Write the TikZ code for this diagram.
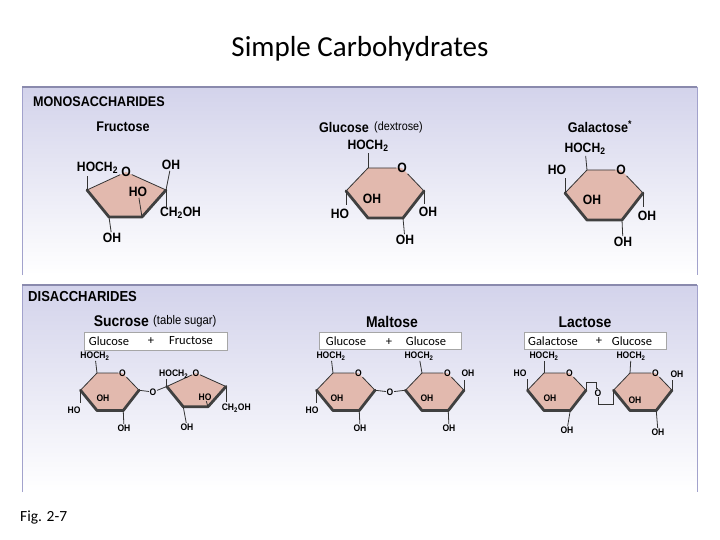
\documentclass[tikz,border=0pt]{standalone}
\usepackage{fontspec}
\setmainfont{Carlito}
\newfontfamily\labf[FakeStretch=0.9]{Liberation Sans}
\usetikzlibrary{calc}
\definecolor{ringc}{HTML}{E2B9AE}
\definecolor{panelc}{HTML}{D3D3EB}
\definecolor{panelb}{HTML}{A2A2CC}
\tikzset{
 edge/.style={draw=black!80,line width=0.8pt,line join=round},
 bottomedge/.style={draw=black!75,line width=2.8pt,line join=round,line cap=round},
 bond/.style={draw=black!80,line width=0.8pt},
 lbl/.style={font=\labf\bfseries\fontsize{13.5}{13.5}\selectfont,inner sep=0.8pt},
 slbl/.style={font=\labf\bfseries\fontsize{9.5}{9.5}\selectfont,inner sep=0.6pt},
 ttl/.style={font=\labf\bfseries\fontsize{14}{14}\selectfont,inner sep=0pt},
 dttl/.style={font=\labf\bfseries\fontsize{15.5}{15.5}\selectfont,inner sep=0pt},
 sub/.style={font=\labf\fontsize{12}{12}\selectfont,inner sep=0pt},
 boxt/.style={font=\fontsize{12.5}{12.5}\selectfont,inner sep=0pt},
 namebox/.style={draw=black!35,fill=white,line width=0.6pt},
}
\newcommand\hexat[5]{% prefix, x, y, scale, label style
 \begin{scope}[shift={(#2,#3)},scale=#4]
 \coordinate (#1tl) at (0,0); \coordinate (#1o) at (34,0); \coordinate (#1r) at (56,23);
 \coordinate (#1br) at (35,50); \coordinate (#1bl) at (0,50); \coordinate (#1l) at (-22,23);
 \end{scope}
 \fill[ringc] (#1tl)--(#1o)--(#1r)--(#1br)--(#1bl)--(#1l)--cycle;
 \node[#5] (#1O) at (#1o) {O};
 \draw[edge] (#1l)--(#1tl)--(#1O);
 \draw[edge] (#1O)--(#1r);
 \draw[bottomedge] (#1r)--(#1br)--(#1bl)--(#1l);
}
\newcommand\pentat[5]{%
 \begin{scope}[shift={(#2,#3)},scale=#4]
 \coordinate (#1o) at (0,0); \coordinate (#1l) at (-39,18); \coordinate (#1bl) at (-17,45);
 \coordinate (#1br) at (16,45); \coordinate (#1r) at (40,18);
 \end{scope}
 \fill[ringc] (#1o)--(#1r)--(#1br)--(#1bl)--(#1l)--cycle;
 \node[#5] (#1O) at (#1o) {O};
 \draw[edge] (#1l)--(#1O)--(#1r);
 \draw[bottomedge] (#1r)--(#1br)--(#1bl)--(#1l);
}
\newcommand\CH{HOCH\textsubscript{2}}
\newcommand\CHOH{CH\textsubscript{2}OH}
\begin{document}
\begin{tikzpicture}[x=1pt,y=-1pt]
\useasboundingbox (0,0) rectangle (720,540);
\fill[white] (0,0) rectangle (720,540);
\node[font=\fontsize{29}{29}\selectfont] (title) at (360,49) {Simple Carbohydrates};
% panels
\shade[top color=panelc,bottom color=white] (22,87) rectangle (697,275);
\draw[panelb,line width=0.8pt] (22,275)--(22,87)--(697,87)--(697,275);
\draw[panelb!85!black,line width=2pt] (22,87)--(697,87);
\shade[top color=panelc,bottom color=white] (22,285) rectangle (697,492);
\draw[panelb,line width=0.8pt] (22,492)--(22,285)--(697,285)--(697,492);
\draw[panelb!85!black,line width=2pt] (22,285)--(697,285);
\node[anchor=west,inner sep=0pt,font=\labf\bfseries\fontsize{14}{14}\selectfont] (mono) at (33,102) {MONOSACCHARIDES};
\node[anchor=west,inner sep=0pt,font=\labf\bfseries\fontsize{14.5}{14.5}\selectfont] (di) at (28,297) {DISACCHARIDES};
\node[font=\fontsize{15.5}{15.5}\selectfont,anchor=west,inner sep=0pt] (fig) at (20,517) {Fig. 2-7};
% ---------- Fructose
\node[ttl] (tfru) at (123,127) {Fructose};
\pentat{f}{126}{172}{1}{lbl}
\node[lbl,anchor=east] (f1) at (119,168) {\CH};
\draw[bond] (fl)--++(0,-14);
\node[lbl] (f2) at (171,165) {OH};
\draw[bond] (fr)--(f2);
\node[lbl,anchor=west] (f3) at (159,213) {\CHOH};
\draw[bond] (fr)--++(0,18);
\node[lbl] (f4) at (138,192) {HO};
\draw[bond] (fbr)--(f4);
\node[lbl] (f5) at (112,238) {OH};
\draw[bond] (fbl)--(f5);
% ---------- Glucose
\node[ttl,anchor=east] (tglu) at (369,127) {Glucose};
\node[sub,anchor=west] (tglu2) at (374,127) {(dextrose)};
\hexat{g}{368}{168}{1}{lbl}
\node[lbl] (g1) at (368,146) {\CH};
\draw[bond] (gtl)--(g1);
\node[lbl] (g2) at (372,199) {OH};
\node[lbl] (g3) at (340,214) {HO};
\draw[bond] (gl)--++(0,14);
\node[lbl] (g4) at (428,212) {OH};
\draw[bond] (gr)--++(0,13);
\node[lbl] (g5) at (405,240) {OH};
\draw[bond] (gbr)--(g5);
% ---------- Galactose
\node[ttl] (tgal) at (600,127) {Galactose\textsuperscript{*}};
\hexat{a}{587}{170}{1}{lbl}
\node[lbl] (a1) at (585,149) {\CH};
\draw[bond] (atl)--(a1);
\node[lbl] (a2) at (557,170) {HO};
\draw[bond] (al)--++(0,-15);
\node[lbl] (a3) at (592,200) {OH};
\node[lbl] (a4) at (647,216) {OH};
\draw[bond] (ar)--++(0,14);
\node[lbl] (a5) at (623,242) {OH};
\draw[bond] (abr)--(a5);
% ---------- Sucrose
\node[dttl,anchor=east] (tsuc) at (149,321) {Sucrose};
\node[sub,anchor=west,font=\labf\fontsize{12.5}{12.5}\selectfont] (tsuc2) at (153,321) {(table sugar)};
\draw[namebox] (84,332) rectangle (227,350);
\node[boxt] (sb1) at (109,341) {Glucose};
\node[boxt] (sb2) at (151,341) {+};
\node[boxt] (sb3) at (191,341) {Fructose};
\hexat{s}{97}{373}{0.75}{slbl}
\node[slbl] (s1) at (95,356) {\CH};
\draw[bond] (stl)--(s1);
\node[slbl] (s2) at (103,398) {OH};
\node[slbl] (s3) at (74,410) {HO};
\draw[bond] (sl)--++(0,13);
\node[slbl] (s4) at (124,428) {OH};
\draw[bond] (sbr)--(s4);
\node[slbl] (so) at (153,392) {O};
\pentat{t}{196}{373}{0.75}{slbl}
\draw[bond] (sr)--(so)--(tl);
\node[slbl,anchor=east] (t1) at (189,374) {\CH};
\draw[bond] (tl)--++(0,-8);
\node[slbl] (t2) at (205,397) {HO};
\draw[bond] (tbr)--(t2);
\node[slbl,anchor=west] (t3) at (221,408) {\CHOH};
\draw[bond] (tr)--++(0,15);
\node[slbl] (t4) at (187,427) {OH};
\draw[bond] (tbl)--(t4);
% ---------- Maltose
\node[dttl] (tmal) at (392,322) {Maltose};
\draw[namebox] (319,332) rectangle (461,349);
\node[boxt] (mb1) at (346,341) {Glucose};
\node[boxt] (mb2) at (389,342) {+};
\node[boxt] (mb3) at (426,341) {Glucose};
\hexat{m}{333}{373}{0.75}{slbl}
\node[slbl] (m1) at (331,356) {\CH};
\draw[bond] (mtl)--(m1);
\node[slbl] (m2) at (337,398) {OH};
\node[slbl] (m3) at (312,410) {HO};
\draw[bond] (ml)--++(0,13);
\node[slbl] (m4) at (360,428) {OH};
\draw[bond] (mbr)--(m4);
\node[slbl] (mo) at (390,392) {O};
\hexat{n}{422}{373}{0.75}{slbl}
\draw[bond] (mr)--(mo)--(nl);
\node[slbl] (n1) at (419,356) {\CH};
\draw[bond] (ntl)--(n1);
\node[slbl] (n2) at (468,373) {OH};
\draw[bond] (nr)--++(0,-10);
\node[slbl] (n3) at (427,398) {OH};
\node[slbl] (n4) at (449,428) {OH};
\draw[bond] (nbr)--(n4);
% ---------- Lactose
\node[dttl] (tlac) at (585,322) {Lactose};
\draw[namebox] (524,332) rectangle (666,349);
\node[boxt] (lb1) at (553,341) {Galactose};
\node[boxt] (lb2) at (599,341) {+};
\node[boxt] (lb3) at (632,341) {Glucose};
\hexat{u}{544}{373}{0.75}{slbl}
\node[slbl] (u1) at (544,356) {\CH};
\draw[bond] (utl)--(u1);
\node[slbl] (u2) at (520,373) {HO};
\draw[bond] (ul)--++(0,-11);
\node[slbl] (u3) at (550,398) {OH};
\node[slbl] (u4) at (567,430) {OH};
\draw[bond] (ubr)--(u4);
\node[slbl] (lo) at (598,393) {O};
\hexat{v}{630}{373}{0.75}{slbl}
\draw[bond] (ur)--++(0,-8)--++(10,0)--(lo.north -| 596,380)--(lo.north);
\draw[bond] (lo.south)--(lo.south |- 0,404)--(vl |- 0,404)--(vl);
\node[slbl] (v1) at (631,356) {\CH};
\draw[bond] (vtl)--(v1);
\node[slbl] (v2) at (677,374) {OH};
\draw[bond] (vr)--++(0,-10);
\node[slbl] (v3) at (635,400) {OH};
\node[slbl] (v4) at (658,432) {OH};
\draw[bond] (vbr)--(v4);
\end{tikzpicture}
\end{document}
